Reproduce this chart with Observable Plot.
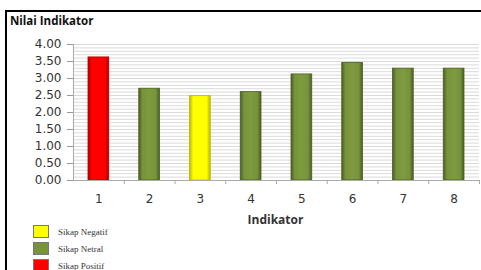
<!DOCTYPE html>
<html><head><meta charset="utf-8">
<script src="https://cdn.jsdelivr.net/npm/d3@7"></script>
<script src="https://cdn.jsdelivr.net/npm/@observablehq/plot@0.6"></script>
<style>
body{margin:0;background:#fff;}
#wrap{position:relative;width:481px;height:270px;overflow:hidden;background:#fff;}
#frame{position:absolute;left:5px;top:10px;width:500px;height:300px;border-left:2.5px solid #000;border-top:2.5px solid #000;}
#title{position:absolute;left:10px;top:13px;font:bold 11.5px "Open Sans",sans-serif;color:#111;}
#xlabel{position:absolute;left:0;width:481px;padding-left:70px;box-sizing:border-box;text-align:center;top:211px;font:bold 12px "Open Sans",sans-serif;color:#333;}
#chart{position:absolute;left:0;top:0;}
#legend{position:absolute;left:33px;top:223px;font:9px "Liberation Serif",serif;color:#333;}
.item{display:flex;align-items:center;height:17px;}
.sw{width:16px;height:13px;margin-right:9px;box-sizing:border-box;border:1px solid #777;}
</style></head>
<body>
<div id="wrap">
<div id="frame"></div>
<div id="chart"></div>
<div id="title">Nilai Indikator</div>
<div id="xlabel">Indikator</div>
<div id="legend"></div>
</div>
<script>
const indikator = [1, 2, 3, 4, 5, 6, 7, 8];
const nilai = [3.62, 2.70, 2.48, 2.60, 3.12, 3.46, 3.29, 3.29];
const sikap = ["Positif", "Netral", "Negatif", "Netral", "Netral", "Netral", "Netral", "Netral"];
const yTicks = [0, 0.5, 1, 1.5, 2, 2.5, 3, 3.5, 4];
const legendItems = ["Negatif", "Netral", "Positif"];
const colors = {Negatif: "#ffff00", Netral: "#77933c", Positif: "#ff0000"};
const edges = {Negatif: "#b8b800", Netral: "#4a5e22", Positif: "#b00000"};
const ids = {Negatif: "gNeg", Netral: "gNet", Positif: "gPos"};

const data = indikator.map((k, i) => ({ind: k, v: nilai[i], s: sikap[i]}));
const boundaries = indikator.map(k => k + 0.5);
const minor = d3.range(0, 41).map(i => i / 10);

const chart = Plot.plot({
  width: 481, height: 270,
  marginLeft: 73, marginRight: 2, marginTop: 44, marginBottom: 90,
  style: {fontFamily: "'DejaVu Sans', sans-serif", fontSize: "12px", color: "#333", background: "transparent"},
  x: {type: "linear", domain: [0.5, 8.5]},
  y: {domain: [0, 4]},
  marks: [
    Plot.gridY(minor, {stroke: "#dadada", strokeOpacity: 1}),
    Plot.rectY(data, {x1: d => d.ind - 0.5, x2: d => d.ind + 0.5, y: "v",
      insetLeft: 15, insetRight: 15,
      fill: d => `url(#${ids[d.s]})`, stroke: d => edges[d.s], strokeWidth: 0.8}),
    Plot.axisY({ticks: yTicks, tickFormat: d3.format(".2f"), tickSize: 6, tickPadding: 6, stroke: "#999", label: null, anchor: "left"}),
    Plot.ruleX([0.5], {stroke: "#aaa"}),
    Plot.ruleY([0], {stroke: "#aaa"}),
    Plot.axisX({ticks: boundaries, tickFormat: () => "", tickSize: 4, stroke: "#aaa", label: null}),
    Plot.axisX({ticks: indikator, tickSize: 0, tickPadding: 14, tickFormat: d => String(d), label: null})
  ]
});
document.getElementById("chart").appendChild(chart);

const svg = d3.select(chart);
const defs = svg.insert("defs", ":first-child");
legendItems.forEach(k => {
  const g = defs.append("linearGradient").attr("id", ids[k]).attr("x1", "0").attr("x2", "1").attr("y1", "0").attr("y2", "0");
  const c = d3.color(colors[k]);
  g.append("stop").attr("offset", "0%").attr("stop-color", edges[k]);
  g.append("stop").attr("offset", "18%").attr("stop-color", colors[k]);
  g.append("stop").attr("offset", "50%").attr("stop-color", c.brighter(0.15).formatHex());
  g.append("stop").attr("offset", "82%").attr("stop-color", colors[k]);
  g.append("stop").attr("offset", "100%").attr("stop-color", edges[k]);
});

const legend = d3.select("#legend");
legendItems.forEach(k => {
  const it = legend.append("div").attr("class", "item");
  it.append("div").attr("class", "sw").style("background", colors[k]);
  it.append("span").text("Sikap " + k);
});
</script>
</body></html>
